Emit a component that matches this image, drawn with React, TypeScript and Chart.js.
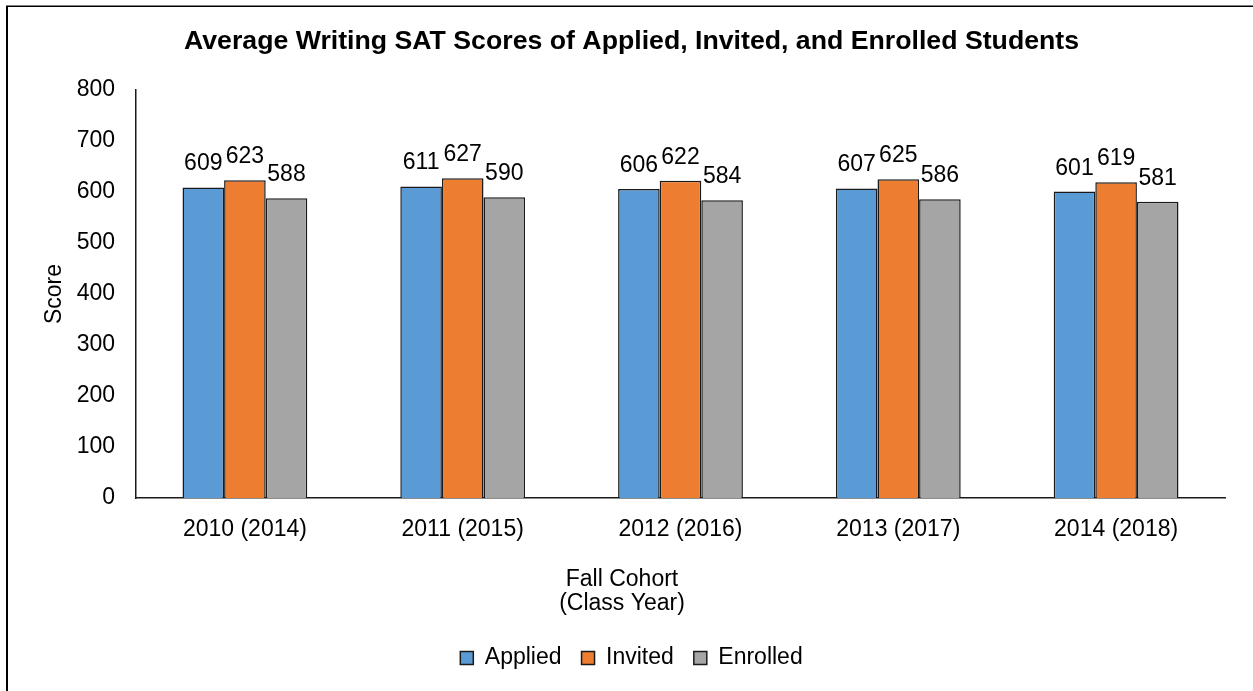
import React, { useEffect, useRef } from "react";
import { Chart, registerables } from "chart.js";

Chart.register(...registerables);

const CATEGORIES = ["2010 (2014)", "2011 (2015)", "2012 (2016)", "2013 (2017)", "2014 (2018)"];
const SERIES_NAMES = ["Applied", "Invited", "Enrolled"];
const APPLIED = [609, 611, 606, 607, 601];
const INVITED = [623, 627, 622, 625, 619];
const ENROLLED = [588, 590, 584, 586, 581];
const SERIES_COLORS = ["#5B9BD5", "#ED7D31", "#A5A5A5"];
const Y_MIN = 0;
const Y_MAX = 800;
const Y_STEP = 100;
const TITLE = "Average Writing SAT Scores of Applied, Invited, and Enrolled Students";
const X_TITLE = ["Fall Cohort", "(Class Year)"];
const Y_TITLE = "Score";

const FONT = '"Liberation Sans", Arial, Helvetica, sans-serif';
const W = 1253;
const H = 691;

const framePlugin = {
  id: "frame",
  beforeDraw(chart: any) {
    const ctx = chart.ctx;
    ctx.save();
    ctx.fillStyle = "#ffffff";
    ctx.fillRect(0, 0, chart.width, chart.height);
    ctx.fillStyle = "#000000";
    ctx.fillRect(6, 6, 2, chart.height);
    ctx.fillRect(6, 5.5, chart.width, 1.5);
    ctx.restore();
  },
};

const dataLabelPlugin = {
  id: "dataLabels",
  afterDatasetsDraw(chart: any) {
    const ctx = chart.ctx;
    ctx.save();
    ctx.font = `23px ${FONT}`;
    ctx.fillStyle = "#000000";
    ctx.textAlign = "center";
    ctx.textBaseline = "alphabetic";
    chart.data.datasets.forEach((ds: any, di: number) => {
      const meta = chart.getDatasetMeta(di);
      meta.data.forEach((bar: any, i: number) => {
        ctx.fillText(String(ds.data[i]), bar.x, bar.y - 17);
      });
    });
    ctx.restore();
  },
};

const xTitlePlugin = {
  id: "xTitle",
  afterDraw(chart: any) {
    const ctx = chart.ctx;
    const base = chart.scales.x.top;
    ctx.save();
    ctx.font = `23px ${FONT}`;
    ctx.fillStyle = "#000000";
    ctx.textAlign = "center";
    ctx.textBaseline = "alphabetic";
    ctx.fillText(X_TITLE[0], 622, base + 88);
    ctx.fillText(X_TITLE[1], 622, base + 112);
    ctx.restore();
  },
};

export default function App() {
  const ref = useRef<HTMLCanvasElement | null>(null);

  useEffect(() => {
    if (!ref.current) return;
    const seriesData = [APPLIED, INVITED, ENROLLED];
    const chart = new Chart(ref.current, {
      type: "bar",
      data: {
        labels: CATEGORIES,
        datasets: SERIES_NAMES.map((name, i) => ({
          label: name,
          data: seriesData[i],
          backgroundColor: SERIES_COLORS[i],
          borderColor: "#1a1a1a",
          borderWidth: 1.5,
          barPercentage: 1,
          categoryPercentage: 0.573,
        })),
      },
      options: {
        responsive: false,
        animation: false,
        layout: { padding: { left: 38, right: 28, top: 0, bottom: 11.5 } },
        plugins: {
          title: {
            display: true,
            text: TITLE,
            color: "#000000",
            font: { family: FONT, size: 26.7, weight: "bold", lineHeight: 1.2 },
            padding: { top: 26, bottom: 32 },
          },
          legend: {
            display: true,
            position: "bottom",
            labels: {
              color: "#000000",
              font: { family: FONT, size: 23 },
              boxWidth: 13,
              boxHeight: 13,
              padding: 20,
            },
          },
          tooltip: { enabled: false },
        },
        scales: {
          x: {
            grid: { display: false, drawTicks: false },
            border: { display: true, color: "#1a1a1a", width: 1.5 },
            ticks: { color: "#000000", font: { family: FONT, size: 23 }, padding: 18, maxRotation: 0 },
            afterFit(scale: any) {
              scale.height = 128.5;
            },
          },
          y: {
            min: Y_MIN,
            max: Y_MAX,
            grid: { display: false, drawTicks: false },
            border: { display: true, color: "#1a1a1a", width: 1.5 },
            ticks: { stepSize: Y_STEP, color: "#000000", font: { family: FONT, size: 23 }, padding: 21 },
            title: {
              display: true,
              text: Y_TITLE,
              color: "#000000",
              font: { family: FONT, size: 23, lineHeight: 0.9 },
              padding: { top: 6, bottom: 0 },
            },
            afterFit(scale: any) {
              scale.width = 98;
            },
          },
        },
      },
      plugins: [framePlugin, dataLabelPlugin, xTitlePlugin],
    } as any);
    return () => chart.destroy();
  }, []);

  return (
    <div style={{ position: "absolute", left: 0, top: 0, width: W, height: H, background: "#fff" }}>
      <canvas ref={ref} width={W} height={H} style={{ display: "block", width: W, height: H }} />
    </div>
  );
}
